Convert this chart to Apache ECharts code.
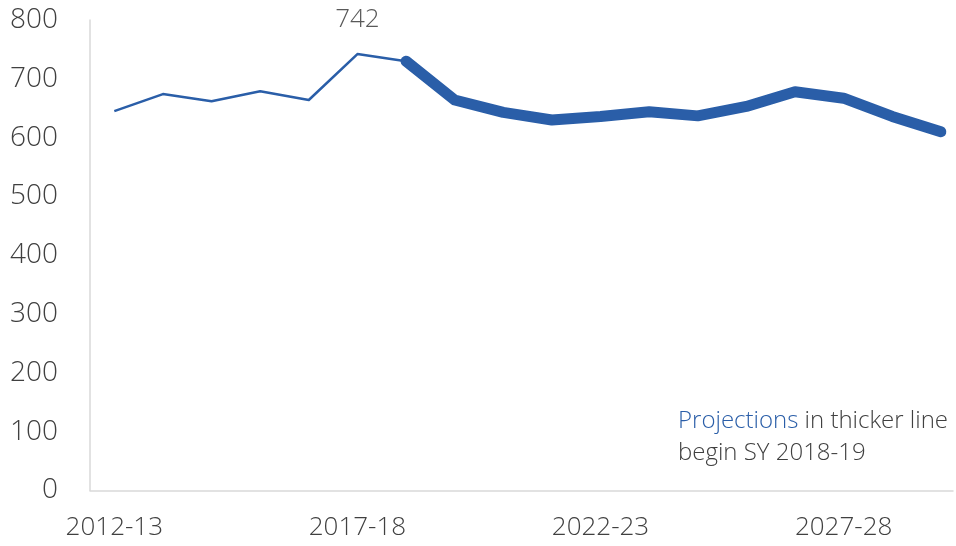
<!DOCTYPE html>
<html>
<head>
<meta charset="utf-8">
<script src="https://cdn.jsdelivr.net/npm/echarts@6/dist/echarts.min.js"></script>
<style>html,body{margin:0;padding:0;background:#fff;}#chart{width:956px;height:546px;}</style>
</head>
<body>
<div id="chart"></div>
<script>
const categories = ['2012-13','2013-14','2014-15','2015-16','2016-17','2017-18','2018-19','2019-20','2020-21','2021-22','2022-23','2023-24','2024-25','2025-26','2026-27','2027-28','2028-29','2029-30'];
const historical = [645, 674, 662, 679, 664, 742, 730];
const projected = [730, 664, 643, 630, 636, 644, 637, 653, 678, 667, 636, 610];
const peakLabelIndex = 5;
const labelEvery = 5;
const yTicks = [0, 100, 200, 300, 400, 500, 600, 700, 800];

const histData = historical.map((v, i) => [i, v]);
const projStart = categories.length - projected.length;
const projData = projected.map((v, i) => [projStart + i, v]);

const FONT = '"Open Sans", sans-serif';
const chart = echarts.init(document.getElementById('chart'));
chart.setOption({
  animation: false,
  grid: { left: 90, right: 0, top: 20, bottom: 55.5 },
  xAxis: {
    type: 'value',
    min: -0.5, max: 17.25, interval: 0.25,
    axisLine: { show: true, onZero: false, lineStyle: { color: '#d9d9d9', width: 1.5 } },
    axisTick: { show: false },
    splitLine: { show: false },
    axisLabel: {
      margin: 24, fontSize: 26, fontFamily: FONT, fontWeight: 300, color: '#404040',
      showMinLabel: true, showMaxLabel: true,
      formatter: v => (Number.isInteger(v) && v >= 0 && v % labelEvery === 0 && categories[v]) ? categories[v] : ''
    }
  },
  yAxis: {
    type: 'value',
    min: yTicks[0], max: yTicks[yTicks.length - 1], interval: 100,
    axisLine: { show: true, onZero: false, lineStyle: { color: '#d9d9d9', width: 1.5 } },
    axisTick: { show: false },
    splitLine: { show: false },
    axisLabel: { margin: 32, fontSize: 28, fontFamily: FONT, fontWeight: 300, color: '#404040' }
  },
  series: [
    {
      type: 'line', data: histData, symbol: 'none', z: 2,
      lineStyle: { color: '#2a5ea8', width: 2.5, join: 'round' },
      markPoint: {
        symbol: 'circle', symbolSize: 0,
        data: [{ coord: [peakLabelIndex, historical[peakLabelIndex]], value: historical[peakLabelIndex] }],
        label: { show: true, position: 'top', distance: 22, fontSize: 26, fontFamily: FONT, fontWeight: 300, color: '#595959' }
      }
    },
    {
      type: 'line', data: projData, symbol: 'none', z: 3,
      lineStyle: { color: '#2a5ea8', width: 11, cap: 'round', join: 'round' }
    }
  ],
  graphic: [{
    type: 'text', left: 678, top: 405,
    style: {
      text: '{b|Projections} in thicker line\nbegin SY 2018-19',
      fontSize: 24, fontFamily: FONT, fontWeight: 300, fill: '#404040', lineHeight: 32,
      rich: { b: { fill: '#2a5ea8', fontSize: 24, fontFamily: FONT, fontWeight: 300, lineHeight: 32 } }
    }
  }]
});
</script>
</body>
</html>
